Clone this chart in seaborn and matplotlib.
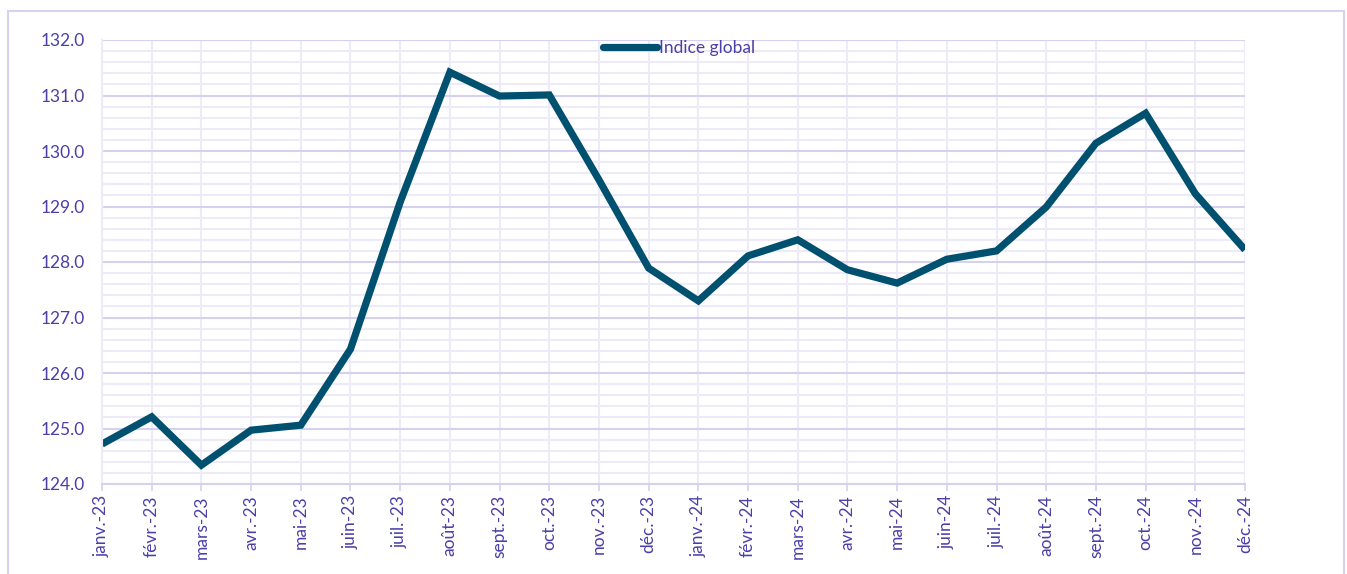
import matplotlib.pyplot as plt
import matplotlib.patches as patches
from matplotlib.ticker import MultipleLocator, FormatStrFormatter
import seaborn as sns
import pandas as pd

# monthly index values
months = ["janv.-23", "févr.-23", "mars-23", "avr.-23", "mai-23", "juin-23",
          "juil.-23", "août-23", "sept.-23", "oct.-23", "nov.-23", "déc.-23",
          "janv.-24", "févr.-24", "mars-24", "avr.-24", "mai-24", "juin-24",
          "juil.-24", "août-24", "sept.-24", "oct.-24", "nov.-24", "déc.-24"]
indice_global = [124.72, 125.21, 124.34, 124.97, 125.06, 126.43,
                 129.08, 131.42, 130.99, 131.01, 129.48, 127.89,
                 127.30, 128.11, 128.40, 127.86, 127.62, 128.05,
                 128.20, 128.99, 130.14, 130.68, 129.23, 128.22]

line_color = "#00506F"
text_color = "#4B3FA8"
major_grid = "#D6D1F0"
minor_grid = "#EEEBF9"

sns.set_style("white")
plt.rcParams['font.family'] = ['Lato', 'DejaVu Sans']

df = pd.DataFrame({"pos": range(len(months)), "mois": months, "Indice global": indice_global})

fig = plt.figure(figsize=(13.47, 5.74), dpi=100)
ax = fig.add_axes([102 / 1347, 90 / 574, 1143 / 1347, 444 / 574])

# outer frame of the chart
fig.patches.append(patches.Rectangle((8 / 1347, -0.05), 1336 / 1347, 1.05 - 11 / 574,
                                     transform=fig.transFigure, fill=False,
                                     edgecolor=major_grid, linewidth=1.5))

sns.lineplot(data=df, x="pos", y="Indice global", ax=ax, color=line_color,
             linewidth=5.2, label="Indice global", sort=False)
ax.lines[0].set_solid_capstyle("butt")
ax.lines[0].set_solid_joinstyle("miter")

ax.set_xlim(0, len(months) - 1)
ax.set_ylim(124, 132)
ax.set_xticks(range(len(months)))
ax.set_xticklabels(months, rotation=90)
ax.yaxis.set_major_locator(MultipleLocator(1))
ax.yaxis.set_minor_locator(MultipleLocator(0.2))
ax.yaxis.set_major_formatter(FormatStrFormatter("%.1f"))

ax.grid(which="minor", axis="y", color=minor_grid, linewidth=1.5)
ax.grid(which="major", axis="y", color=major_grid, linewidth=1.5)
ax.grid(which="major", axis="x", color=minor_grid, linewidth=1.5)
ax.set_axisbelow(True)

for side in ["top", "right"]:
    ax.spines[side].set_visible(False)
ax.spines["left"].set_color(minor_grid)
ax.spines["left"].set_linewidth(1.5)
ax.spines["bottom"].set_color(major_grid)
ax.spines["bottom"].set_linewidth(1.5)

ax.tick_params(axis="x", which="major", bottom=True, length=5, width=1.2,
               color=major_grid, labelsize=12.5, labelcolor=text_color, pad=3)
ax.tick_params(axis="y", which="both", left=False, labelsize=12.5,
               labelcolor=text_color, pad=9)
ax.set_xlabel("")
ax.set_ylabel("")

leg = ax.legend(loc="upper center", bbox_to_anchor=(0.505, 1.035), frameon=False,
                handlelength=3.1, handletextpad=0.15, fontsize=12.5)
for t in leg.get_texts():
    t.set_color(text_color)
leg.get_lines()[0].set_solid_capstyle("round")

fig.savefig("out.png", dpi=100)
